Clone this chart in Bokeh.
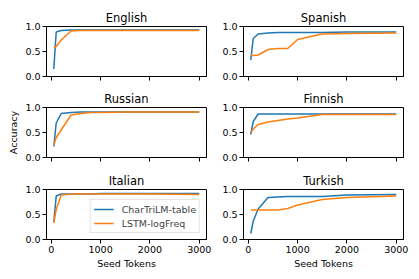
from bokeh.plotting import figure
from bokeh.layouts import gridplot
from bokeh.models import Range1d, FixedTicker, PrintfTickFormatter
from bokeh.embed import file_html
from bokeh.resources import INLINE

seed_tokens = [50, 100, 200, 400, 600, 800, 1000, 1500, 2000, 3000]
languages = ["English", "Spanish", "Russian", "Finnish", "Italian", "Turkish"]

chartrilm = {
    "English": [0.15, 0.89, 0.92, 0.93, 0.93, 0.93, 0.93, 0.93, 0.93, 0.93],
    "Spanish": [0.33, 0.76, 0.85, 0.87, 0.88, 0.88, 0.88, 0.88, 0.89, 0.89],
    "Russian": [0.22, 0.69, 0.88, 0.90, 0.91, 0.91, 0.91, 0.91, 0.91, 0.91],
    "Finnish": [0.46, 0.72, 0.87, 0.87, 0.87, 0.87, 0.87, 0.87, 0.87, 0.87],
    "Italian": [0.35, 0.87, 0.91, 0.91, 0.91, 0.91, 0.92, 0.92, 0.92, 0.92],
    "Turkish": [0.12, 0.37, 0.61, 0.84, 0.85, 0.86, 0.86, 0.86, 0.89, 0.90],
}
lstm = {
    "English": [0.57, 0.60, 0.73, 0.91, 0.92, 0.92, 0.92, 0.92, 0.92, 0.92],
    "Spanish": [0.42, 0.42, 0.43, 0.54, 0.56, 0.56, 0.74, 0.85, 0.86, 0.87],
    "Russian": [0.25, 0.40, 0.55, 0.85, 0.88, 0.90, 0.90, 0.91, 0.91, 0.91],
    "Finnish": [0.50, 0.57, 0.66, 0.71, 0.74, 0.77, 0.79, 0.86, 0.86, 0.86],
    "Italian": [0.33, 0.60, 0.89, 0.91, 0.91, 0.91, 0.91, 0.91, 0.91, 0.90],
    "Turkish": [0.59, 0.59, 0.59, 0.59, 0.59, 0.62, 0.69, 0.80, 0.84, 0.87],
}
x_ticks = [0, 1000, 2000, 3000]
y_ticks = [0.0, 0.5, 1.0]

BLUE = "#1f77b4"
ORANGE = "#ff7f0e"
FONT = "DejaVu Sans"

figs = []
for i, lang in enumerate(languages):
    row, col = divmod(i, 2)
    tops = [26, 23, 24]
    bottoms = [8, 8, 39]
    p = figure(frame_width=160, frame_height=50, output_backend="svg",
               toolbar_location=None, x_range=Range1d(-97.5, 3147.5),
               y_range=Range1d(0, 1),
               min_border_left=46 if col == 0 else 30,
               min_border_right=7 if col == 0 else 15,
               min_border_top=tops[row], min_border_bottom=bottoms[row])
    p.title.text = lang
    p.title.align = "center"
    p.title.text_font = FONT
    p.title.text_font_size = "11.5px"
    p.title.text_font_style = "normal"
    p.title.text_color = "black"
    p.title.standoff = 3
    p.xgrid.visible = False
    p.ygrid.visible = False
    p.outline_line_color = "black"
    p.outline_line_width = 1
    p.outline_line_alpha = 1
    for ax in (p.xaxis[0], p.yaxis[0]):
        ax.axis_line_color = "black"
        ax.major_tick_line_color = "black"
        ax.major_tick_out = 4
        ax.major_tick_in = 0
        ax.minor_tick_line_color = None
        ax.major_label_standoff = 2
        ax.major_label_text_font = FONT
        ax.major_label_text_font_size = "9.5px"
        ax.major_label_text_color = "black"
        ax.axis_label_text_font = FONT
        ax.axis_label_text_font_size = "9.5px"
        ax.axis_label_text_font_style = "normal"
        ax.axis_label_text_color = "black"
    p.xaxis.ticker = FixedTicker(ticks=x_ticks)
    p.yaxis.ticker = FixedTicker(ticks=y_ticks)
    p.yaxis.formatter = PrintfTickFormatter(format="%.1f")
    if row < 2:
        # tick marks only, no tick labels (shared x axis)
        p.xaxis.major_label_text_font_size = "0px"
        p.xaxis.major_label_text_color = None
        p.xaxis.major_label_text_alpha = 0
        p.xaxis.major_label_standoff = 0
    else:
        p.xaxis.axis_label = "Seed Tokens"
        p.xaxis.axis_label_standoff = 2
    if row == 1 and col == 0:
        p.yaxis.axis_label = "Accuracy"
        p.yaxis.axis_label_standoff = 3

    if lang == "Italian":
        p.line(seed_tokens, chartrilm[lang], line_color=BLUE, line_width=1.5,
               legend_label="CharTriLM-table")
        p.line(seed_tokens, lstm[lang], line_color=ORANGE, line_width=1.5,
               legend_label="LSTM-logFreq")
        lg = p.legend[0]
        lg.location = "bottom_right"
        lg.margin = 6
        lg.padding = 3
        lg.spacing = 2
        lg.glyph_width = 20
        lg.glyph_height = 12
        lg.label_height = 12
        lg.label_standoff = 8
        lg.label_text_font = FONT
        lg.label_text_font_size = "9.5px"
        lg.border_line_color = "#cccccc"
        lg.background_fill_alpha = 0.8
    else:
        p.line(seed_tokens, chartrilm[lang], line_color=BLUE, line_width=1.5)
        p.line(seed_tokens, lstm[lang], line_color=ORANGE, line_width=1.5)
    figs.append(p)

grid = gridplot([[figs[0], figs[1]], [figs[2], figs[3]], [figs[4], figs[5]]],
                toolbar_location=None)

open("out.html", "w").write(file_html(grid, INLINE))
